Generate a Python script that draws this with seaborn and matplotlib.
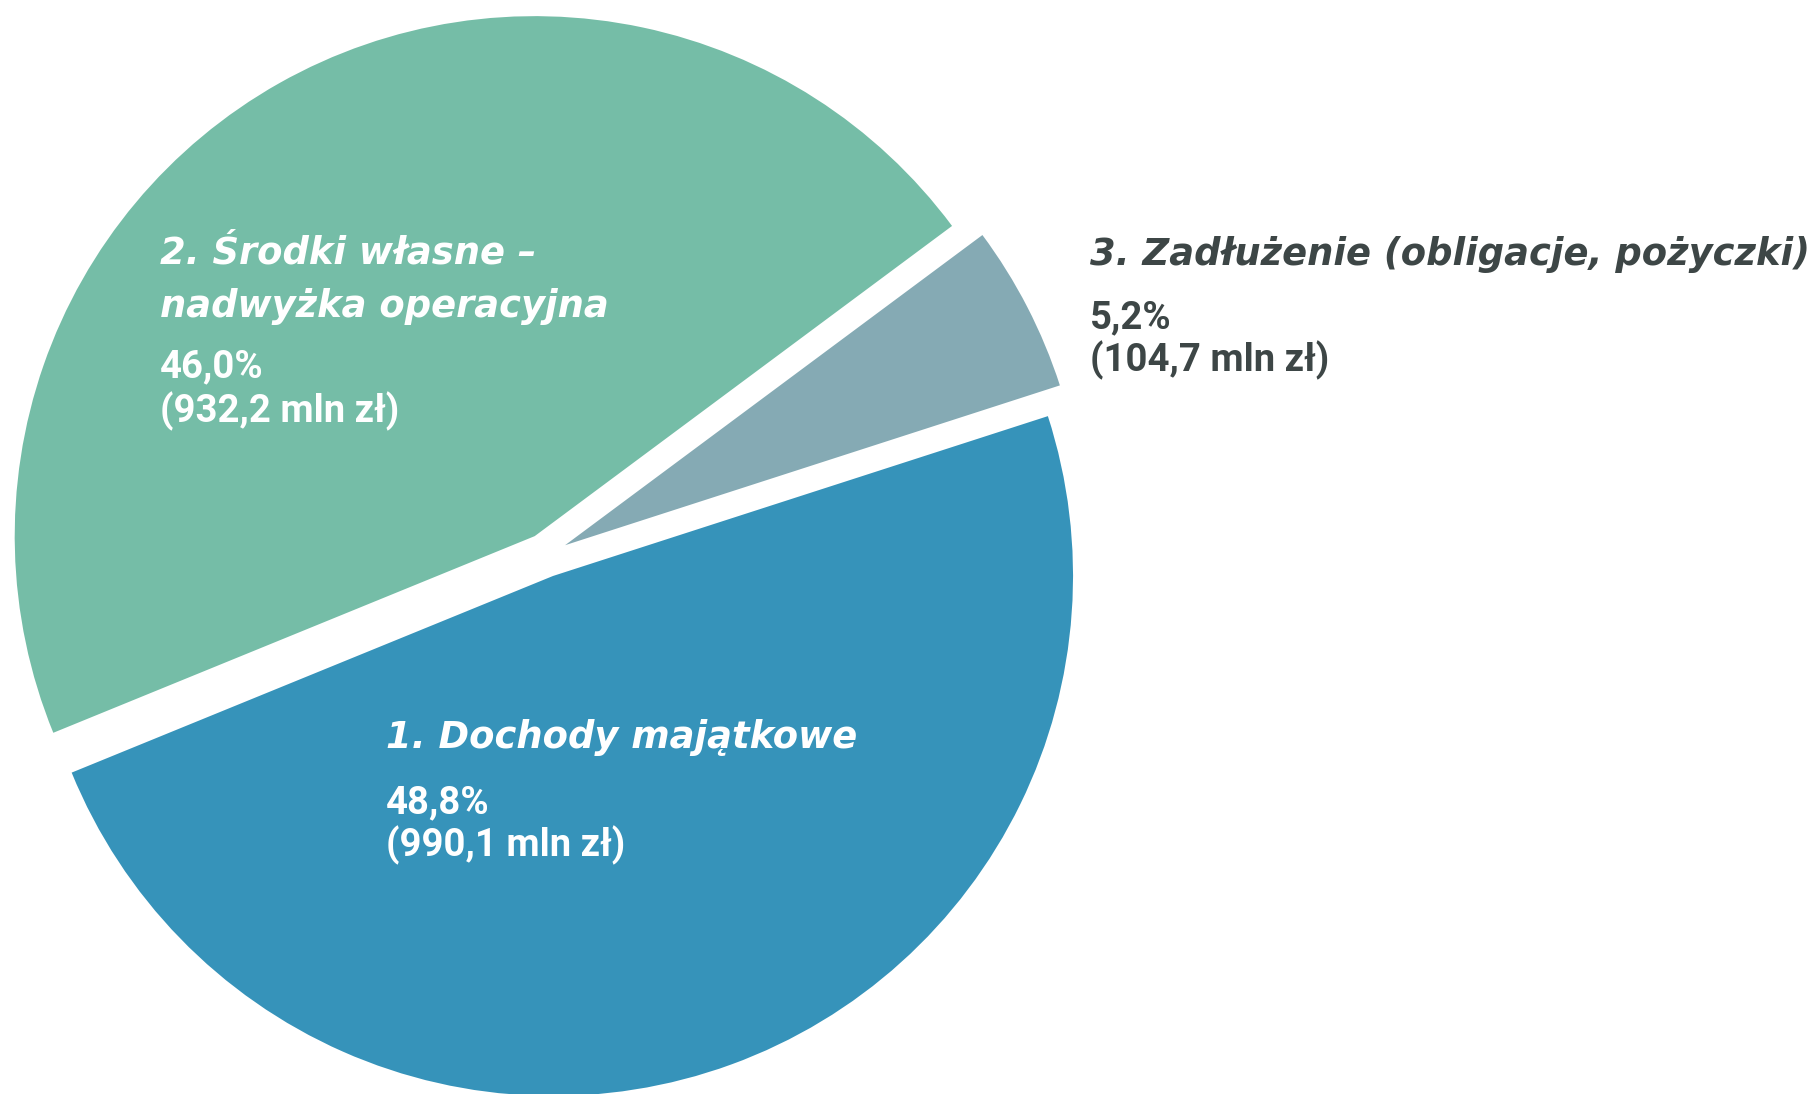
import matplotlib
matplotlib.use("Agg")
import matplotlib.pyplot as plt
import seaborn as sns

# ---- data ----
categories = ["1. Dochody majątkowe",
              "2. Środki własne –\nnadwyżka operacyjna",
              "3. Zadłużenie (obligacje, pożyczki)"]
shares = [48.8, 46.0, 5.2]          # %
amounts = [990.1, 932.2, 104.7]     # mln zł

# ---- style ----
colors = ["#3693BA", "#75BDA7", "#85AAB4"]
text_colors = ["white", "white", "#3d4646"]

sns.set_theme(style="white")
plt.rcParams["font.family"] = ["DejaVu Sans"]

W, H = 1819, 1094
fig = plt.figure(figsize=(W / 100, H / 100), dpi=100)
ax = fig.add_axes([0, 0, 1, 1])

ax.pie(shares, colors=colors, startangle=17.9, counterclock=False,
       radius=520, center=(545.5, H - 555.3), explode=[22, 22, 22],
       wedgeprops=dict(linewidth=0))
ax.set_xlim(0, W)
ax.set_ylim(0, H)
ax.set_aspect("equal")
ax.axis("off")

# label layout (pixel positions: left x, title baselines, number baselines)
title_x = [386, 160, 1090]
title_base = [[748], [264, 317], [265]]
num_pos = [(813, 856), (377, 422), (328, 371)]

title_fs = 26.6
num_fs = 27.5

def fmt(v):
    return f"{v:.1f}".replace(".", ",")

for i, cat in enumerate(categories):
    tx = title_x[i]
    for line, ty in zip(cat.split("\n"), title_base[i]):
        ax.text(tx, H - ty, line, fontsize=title_fs, fontweight="bold",
                fontstyle="italic", color=text_colors[i], ha="left",
                va="baseline", family=["DejaVu Sans"])
    ny1, ny2 = num_pos[i]
    ax.text(tx, H - ny1, f"{fmt(shares[i])}%", fontsize=num_fs,
            fontweight="bold", color=text_colors[i], ha="left",
            va="baseline", family=["Roboto", "DejaVu Sans"])
    ax.text(tx, H - ny2, f"({fmt(amounts[i])} mln zł)", fontsize=num_fs,
            fontweight="bold", color=text_colors[i], ha="left",
            va="baseline", family=["Roboto", "DejaVu Sans"])

fig.savefig("out.png", dpi=100, facecolor="white")
